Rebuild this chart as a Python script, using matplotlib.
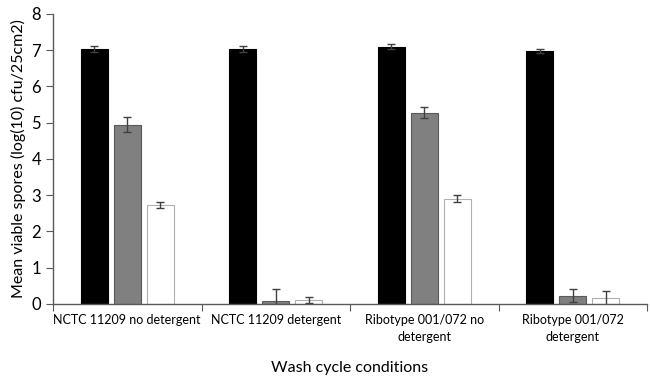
import numpy as np
import matplotlib.pyplot as plt

plt.rcParams['font.family'] = ['Lato', 'DejaVu Sans']

# wash conditions on the x axis
conditions = ["NCTC 11209 no detergent", "NCTC 11209 detergent",
              "Ribotype 001/072 no\ndetergent", "Ribotype 001/072\ndetergent"]

# three series per condition (black, grey, white bars)
black_vals = [7.03, 7.04, 7.10, 6.97]
black_err = [0.08, 0.09, 0.06, 0.06]
grey_vals = [4.95, 0.09, 5.27, 0.23]
grey_err = [0.20, 0.32, 0.15, 0.17]
white_vals = [2.72, 0.11, 2.90, 0.17]
white_err = [0.08, 0.09, 0.10, 0.19]

fig = plt.figure(figsize=(6.5, 3.78), dpi=100)
ax = fig.add_axes([0.0815, 0.196, 0.914, 0.767])

x = np.arange(len(conditions))
w = 0.182
step = 0.223
err_kw = dict(ecolor='#404040', capsize=3, elinewidth=1, capthick=1)

ax.bar(x - step, black_vals, w, yerr=black_err, color='black',
       edgecolor='black', linewidth=0.8, error_kw=err_kw)
ax.bar(x, grey_vals, w, yerr=grey_err, color='#808080',
       edgecolor='#5a5a5a', linewidth=0.8, error_kw=err_kw)
ax.bar(x + step, white_vals, w, yerr=white_err, color='white',
       edgecolor='#b0b0b0', linewidth=0.8, error_kw=err_kw)

ax.set_xlim(-0.5, len(conditions) - 0.5)
ax.set_ylim(0, 8)
ax.set_yticks(range(0, 9))

# ticks between groups, labels at group centres
ax.set_xticks(np.arange(-0.5, len(conditions)), minor=False)
ax.set_xticklabels([])
ax.set_xticks(x, minor=True)
ax.set_xticklabels(conditions, minor=True, fontsize=9, linespacing=1.5)
ax.tick_params(axis='x', which='minor', length=0, pad=7)
ax.tick_params(axis='x', which='major', length=5, direction='out', color='#595959')
ax.tick_params(axis='y', labelsize=12, length=5, color='#595959')

for s in ['top', 'right']:
    ax.spines[s].set_visible(False)
for s in ['left', 'bottom']:
    ax.spines[s].set_color('#595959')
    ax.spines[s].set_linewidth(1)

ax.set_ylabel("Mean viable spores (log(10) cfu/25cm2)", fontsize=11.5)
ax.set_xlabel("Wash cycle conditions", fontsize=11.5, labelpad=13)

fig.savefig("out.png", dpi=100)
